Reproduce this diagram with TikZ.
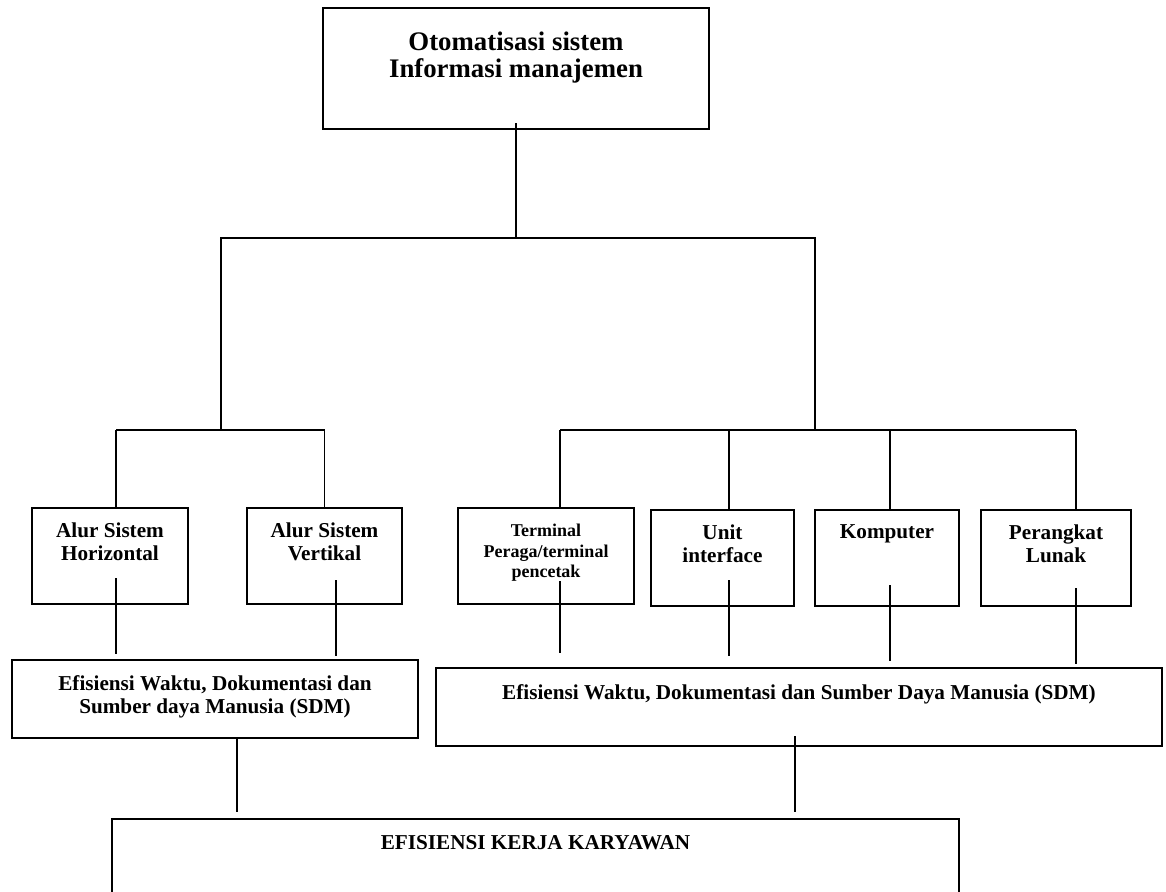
\documentclass[tikz,border=0pt]{standalone}
\usepackage{fontspec}
\setmainfont{Liberation Serif}
\tikzset{
  box/.style 2 args={draw,line width=1pt,minimum width=#1,minimum height=#2,inner sep=0pt},
  con/.style={line width=0.8pt},
  txt/.style={anchor=north,align=center,inner sep=0pt,font=\bfseries\fontsize{10.6}{11.6}\selectfont},
  big/.style={font=\bfseries\fontsize{13.4}{13.5}\selectfont},
  small/.style={font=\bfseries\fontsize{9}{10.3}\selectfont},
}
\begin{document}
\begin{tikzpicture}[x=0.5pt,y=-0.5pt]
  \useasboundingbox (0,0) rectangle (1166,891);
  \clip (0,0) rectangle (1166,891);
  % boxes, text sits at the top
  \node[box={193pt}{60.5pt},label={[txt,big,yshift=-12pt]north:{Otomatisasi sistem\\Informasi manajemen}}] (top) at (516,68.5) {};
  \node[box={78pt}{48pt},label={[txt,yshift=-7.5pt]north:{Alur Sistem\\Horizontal}}] (hor) at (110,556) {};
  \node[box={77.5pt}{48pt},label={[txt,yshift=-7.5pt]north:{Alur Sistem\\Vertikal}}] (ver) at (324.5,556) {};
  \node[box={88pt}{48pt},label={[txt,small,yshift=-8.4pt]north:{Terminal\\Peraga/terminal\\pencetak}}] (term) at (546,556) {};
  \node[box={71.5pt}{48pt},label={[txt,yshift=-7.7pt]north:{Unit\\interface}}] (unit) at (722.5,558) {};
  \node[box={72pt}{48pt},label={[txt,yshift=-7.8pt]north:{Komputer}}] (komp) at (887,558) {};
  \node[box={75pt}{48pt},label={[txt,yshift=-7.8pt]north:{Perangkat\\Lunak}}] (lunak) at (1056,558) {};
  \node[box={203pt}{39pt},label={[txt,yshift=-8.2pt]north:{Efisiensi Waktu, Dokumentasi dan\\Sumber daya Manusia (SDM)}}] (effL) at (215,699) {};
  \node[box={363pt}{39pt},label={[txt,yshift=-8.5pt]north:{Efisiensi Waktu, Dokumentasi dan Sumber Daya Manusia (SDM)}}] (effR) at (799,707) {};
  \node[box={423.5pt}{43pt},label={[txt,yshift=-8.5pt]north:{EFISIENSI KERJA KARYAWAN}}] (kerja) at (535.5,862) {};

  % branch points
  \coordinate (hub)   at (516,238);
  \coordinate (hubL)  at (221,238);
  \coordinate (hubR)  at (815,238);
  \coordinate (railL) at (221,430);
  \coordinate (railR) at (815,430);

  \draw[con] ([yshift=3.5pt]top.south) -- (hub);
  \draw[con] (railL) -- (hubL) -- (hubR) -- (railR);
  \draw[con] ([xshift=3pt]hor.north |- railL) -- (ver.north |- railL);
  \draw[con] ([xshift=7pt]term.north |- railR) -- ([xshift=10pt]lunak.north |- railR);
  \foreach \n/\dx/\r in {hor/3pt/railL,ver/0pt/railL,term/7pt/railR,unit/3.25pt/railR,komp/1.5pt/railR,lunak/10pt/railR}
    \draw[con] ([xshift=\dx]\n.north) -- ([xshift=\dx]\n.north |- \r);

  % lines down to the next level
  \foreach \n/\m/\dx/\up/\gap in {hor/effL/3pt/13.5pt/2.5pt,ver/effL/5.75pt/12.5pt/1.5pt,
      term/effR/7pt/12pt/7pt,unit/effR/3.25pt/13.5pt/5.5pt,komp/effR/1.5pt/11pt/3pt,
      lunak/effR/10pt/9.5pt/1.5pt,effL/kerja/11pt/0pt/3pt,effR/kerja/-2pt/5.5pt/3pt}
    \draw[con] ([xshift=\dx,yshift=\up]\n.south) -- ([xshift=\dx,yshift=\gap]\n.south |- \m.north);
\end{tikzpicture}
\end{document}
